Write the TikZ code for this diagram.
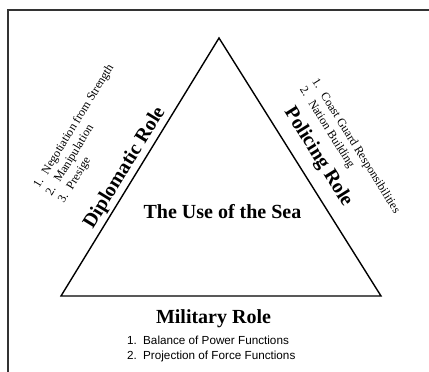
\documentclass[tikz,border=0pt]{standalone}
\usepackage{fontspec}
\setmainfont{Liberation Serif}
\newfontfamily\listsans{Liberation Sans}
\usetikzlibrary{positioning, calc}

\newcommand{\numitem}[2]{\makebox[16pt][l]{#1}#2}

\begin{document}
\begin{tikzpicture}[x=1pt, y=-1pt]
    \tikzstyle{role} = [font=\fontsize{20}{24}\selectfont\bfseries, inner sep=0pt]
    \tikzstyle{items} = [font=\fontsize{12}{14.5}\selectfont, align=left, inner sep=0pt]
    \tikzstyle{frame} = [line width=1.5pt, draw=black!80]
    \useasboundingbox (0,0) rectangle (429,372);

    % Frame (open to the right and the bottom)
    \coordinate (fb) at (8,374);
    \coordinate (fc) at (8,10);
    \coordinate (fr) at (431,10);
    \draw[frame] (fb) -- (fc) -- (fr);

    % Triangle
    \coordinate (top) at (219,38);
    \coordinate (left) at (61,296);
    \coordinate (right) at (381,296);
    \draw[line width=1.4pt, line join=miter] (top) -- (left) -- (right) -- cycle;

    \node[role, anchor=base] (sea) at (222.5,218) {The Use of the Sea};

    % Left side
    \node[role, rotate=58.5] (dipl) at (125,168) {Diplomatic Role};
    \node[items, anchor=west, rotate=58.5] (diplist) at (49,195)
        {\numitem{1.}{Negotiation from Strength}\\
         \numitem{2.}{Manipulation}\\
         \numitem{3.}{Presige}};

    % Right side
    \node[role, rotate=-58] (pol) at (318,157) {Policing Role};
    \node[items, anchor=west, rotate=-58] (pollist) at (308,84)
        {\numitem{1.}{Coast Guard Responsibilities}\\
         \numitem{2.}{Nation Building}};

    % Bottom
    \node[role, anchor=base] (mil) at (213.5,323) {Military Role};
    \node[items, font=\fontsize{11.7}{15}\selectfont\listsans, anchor=west] (millist) at (127,348.5)
        {\numitem{1.}{Balance of Power Functions}\\
         \numitem{2.}{Projection of Force Functions}};
\end{tikzpicture}
\end{document}
